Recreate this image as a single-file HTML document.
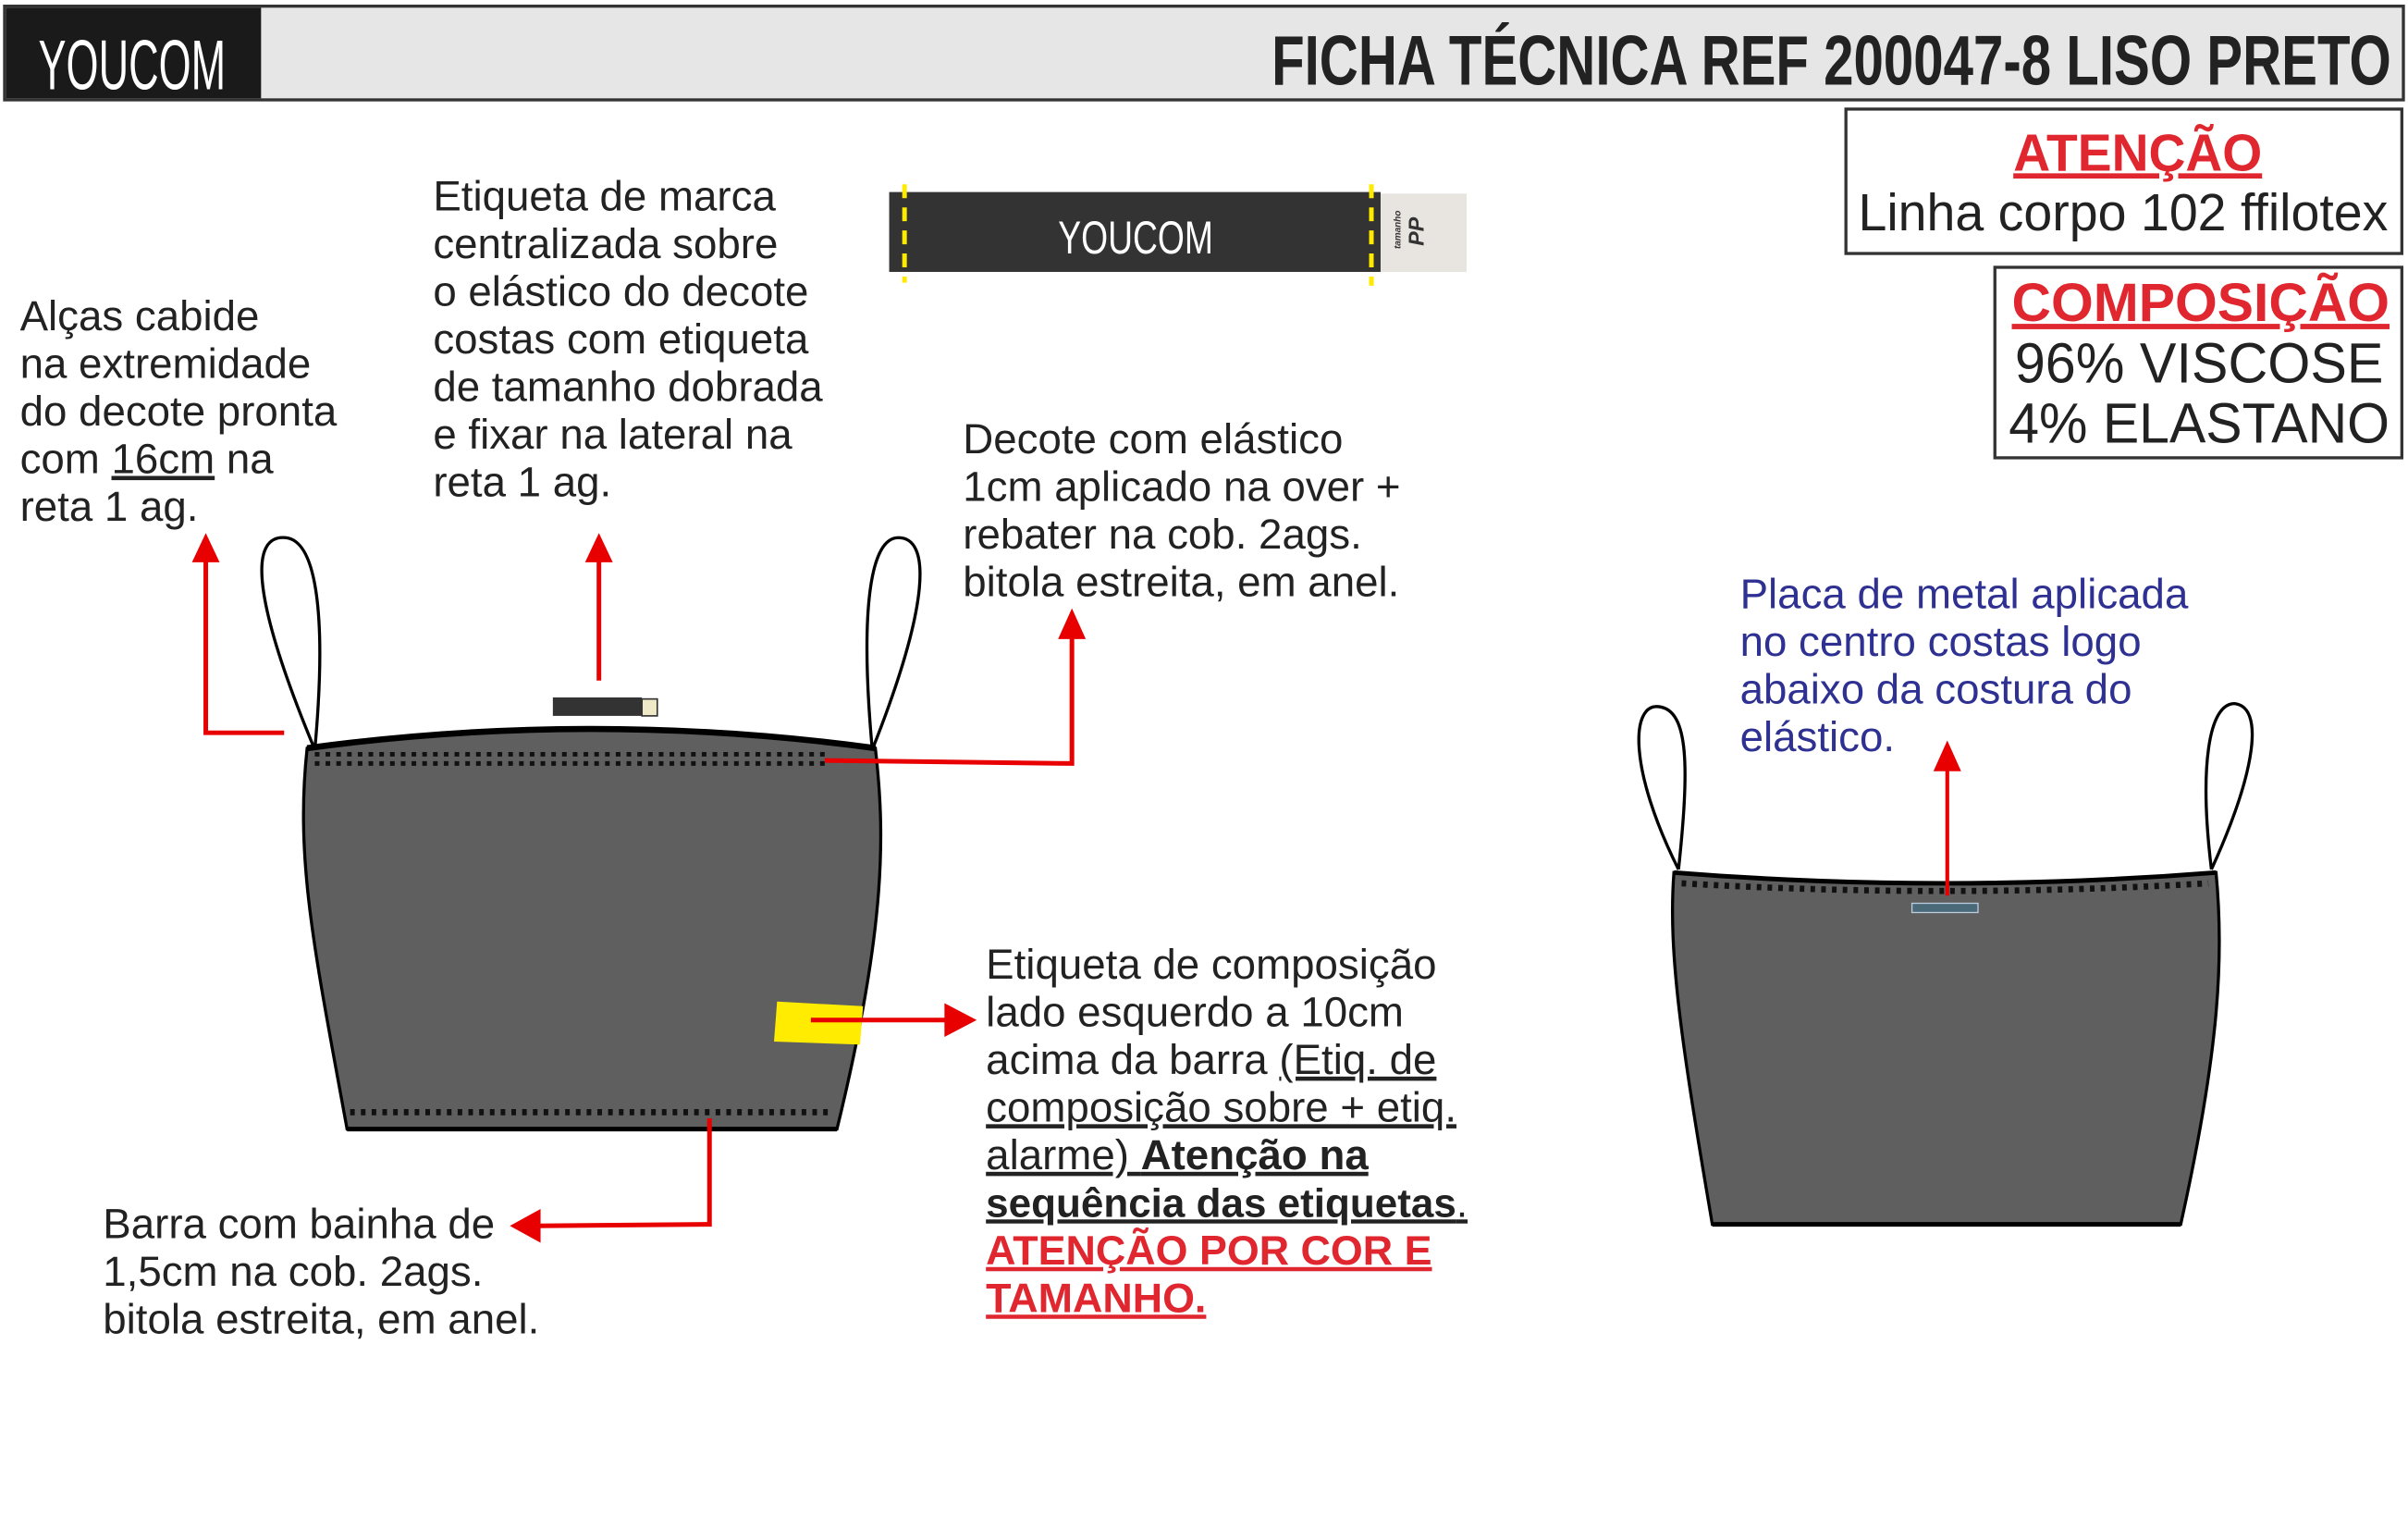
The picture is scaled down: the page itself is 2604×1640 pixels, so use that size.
<!DOCTYPE html>
<html><head><meta charset="utf-8"><style>
html,body{margin:0;padding:0;background:#fff;}
svg{display:block;}
text{font-family:"Liberation Sans",sans-serif;}
</style></head><body>
<svg width="2604" height="1640" viewBox="0 0 1568 987.5" xmlns="http://www.w3.org/2000/svg">
<rect x="0" y="0" width="1568" height="987.5" fill="#fff"/>
<rect x="3" y="4" width="1562" height="61" fill="#e6e6e6" stroke="#333" stroke-width="2"/>
<rect x="4" y="5" width="166" height="59" fill="#1a1a1a"/>
<text x="25" y="58" font-size="46" fill="#fff" textLength="122" lengthAdjust="spacingAndGlyphs">YOUCOM</text>
<text x="828" y="55" font-size="46" font-weight="bold" fill="#222" textLength="729" lengthAdjust="spacingAndGlyphs">FICHA TÉCNICA REF 200047-8 LISO PRETO</text>
<rect x="1202" y="71" width="362" height="94" fill="#fff" stroke="#333" stroke-width="2"/>
<text x="1311" y="111" font-size="34" font-weight="bold" fill="#e0262e" text-decoration="underline" textLength="162" lengthAdjust="spacingAndGlyphs">ATENÇÃO</text>
<text x="1210" y="150" font-size="34" fill="#222" textLength="345" lengthAdjust="spacingAndGlyphs">Linha corpo 102 ffilotex</text>
<rect x="1299" y="174" width="265" height="124" fill="#fff" stroke="#333" stroke-width="2"/>
<text x="1310" y="209" font-size="35" font-weight="bold" fill="#e0262e" text-decoration="underline" textLength="246" lengthAdjust="spacingAndGlyphs">COMPOSIÇÃO</text>
<text x="1312" y="249" font-size="37" fill="#222" textLength="240" lengthAdjust="spacingAndGlyphs">96% VISCOSE</text>
<text x="1308" y="288" font-size="37" fill="#222" textLength="248" lengthAdjust="spacingAndGlyphs">4% ELASTANO</text>
<rect x="579" y="125" width="320" height="52" fill="#333"/>
<rect x="899" y="126" width="56" height="51" fill="#e8e4e0"/>
<line x1="589" y1="120" x2="589" y2="184" stroke="#ffea00" stroke-width="3" stroke-dasharray="9,6"/>
<line x1="893" y1="120" x2="893" y2="186" stroke="#ffea00" stroke-width="3" stroke-dasharray="9,6"/>
<text x="689" y="165" font-size="30" fill="#fff" textLength="101" lengthAdjust="spacingAndGlyphs">YOUCOM</text>
<text transform="translate(912,162) rotate(-90)" font-size="6" font-weight="bold" font-style="italic" fill="#333">tamanho</text>
<text transform="translate(927,160) rotate(-90)" font-size="14" font-weight="bold" font-style="italic" fill="#333">PP</text>
<g font-size="27.5" fill="#222">
<text x="13" y="215">Alças cabide</text>
<text x="13" y="246">na extremidade</text>
<text x="13" y="277">do decote pronta</text>
<text x="13" y="308">com <tspan text-decoration="underline">16cm</tspan> na</text>
<text x="13" y="339">reta 1 ag.</text>
<text x="282" y="137">Etiqueta de marca</text>
<text x="282" y="168">centralizada sobre</text>
<text x="282" y="199">o elástico do decote</text>
<text x="282" y="230">costas com etiqueta</text>
<text x="282" y="261">de tamanho dobrada</text>
<text x="282" y="292">e fixar na lateral na</text>
<text x="282" y="323">reta 1 ag.</text>
<text x="627" y="295">Decote com elástico</text>
<text x="627" y="326">1cm aplicado na over +</text>
<text x="627" y="357">rebater na cob. 2ags.</text>
<text x="627" y="388">bitola estreita, em anel.</text>
<text x="642" y="637">Etiqueta de composição</text>
<text x="642" y="668">lado esquerdo a 10cm</text>
<text x="642" y="699">acima da barra <tspan text-decoration="underline">(Etiq. de</tspan></text>
<text x="642" y="730" text-decoration="underline">composição sobre + etiq.</text>
<text x="642" y="761" text-decoration="underline">alarme) <tspan font-weight="bold">Atenção na </tspan></text>
<text x="642" y="792" text-decoration="underline" font-weight="bold" font-size="26.5">sequência das etiquetas<tspan font-weight="normal">.</tspan></text>
<text x="642" y="823" text-decoration="underline" font-weight="bold" fill="#e0262e" font-size="27">ATENÇÃO POR COR E</text>
<text x="642" y="854" text-decoration="underline" font-weight="bold" fill="#e0262e" font-size="27">TAMANHO.</text>
<text x="67" y="806">Barra com bainha de</text>
<text x="67" y="837">1,5cm na cob. 2ags.</text>
<text x="67" y="868">bitola estreita, em anel.</text>
<g fill="#2e3192">
<text x="1133" y="396">Placa de metal aplicada</text>
<text x="1133" y="427">no centro costas logo</text>
<text x="1133" y="458">abaixo da costura do</text>
<text x="1133" y="489">elástico.</text>
</g>
</g>
<path d="M205,488 C160,380 165,348 186,350 C206,352 213,400 205,488" fill="none" stroke="#000" stroke-width="2"/>
<path d="M568,488 C560,400 566,350 585,350 C606,350 606,392 568,488" fill="none" stroke="#000" stroke-width="2"/>
<path d="M200,487 Q385,462 570,487 C576,540 578,600 545,735 L226,735 C205,620 192,560 200,487 Z" fill="#5f5f5f" stroke="#000" stroke-width="2"/>
<path d="M200,487 Q385,462 570,487" fill="none" stroke="#000" stroke-width="4"/>
<line x1="226" y1="735" x2="545" y2="735" stroke="#000" stroke-width="3"/>
<line x1="205" y1="491" x2="540" y2="491" stroke="#111" stroke-width="3" stroke-dasharray="3,4"/>
<line x1="205" y1="497" x2="540" y2="497" stroke="#111" stroke-width="3" stroke-dasharray="3,4"/>
<line x1="228" y1="724" x2="542" y2="724" stroke="#111" stroke-width="4" stroke-dasharray="3,4"/>
<rect x="360" y="454" width="58" height="12" fill="#333"/>
<rect x="418" y="455" width="10" height="11" fill="#efe9c8" stroke="#333" stroke-width="1"/>
<polygon points="506,652 562,655 560,680 504,678" fill="#ffec00"/>
<path d="M1093,566 C1060,500 1062,458 1080,460 C1100,462 1100,500 1093,566" fill="none" stroke="#000" stroke-width="2"/>
<path d="M1440,566 C1432,500 1438,458 1455,458 C1474,460 1470,500 1440,566" fill="none" stroke="#000" stroke-width="2"/>
<path d="M1090,568 Q1266,582 1443,568 C1448,620 1446,680 1420,797 L1115,797 C1095,680 1086,620 1090,568 Z" fill="#5f5f5f" stroke="#000" stroke-width="2"/>
<path d="M1090,568 Q1266,582 1443,568" fill="none" stroke="#000" stroke-width="3"/>
<line x1="1115" y1="797" x2="1420" y2="797" stroke="#000" stroke-width="3"/>
<path d="M1095,575 Q1266,585 1438,575" fill="none" stroke="#111" stroke-width="4" stroke-dasharray="3,4"/>
<rect x="1245" y="588" width="43" height="6" fill="#4a6a7a" stroke="#bcd" stroke-width="0.8"/>
<g stroke="#e80000" stroke-width="3" fill="none">
<polyline points="185,477 134,477 134,364"/>
<line x1="390" y1="443" x2="390" y2="364"/>
<polyline points="537,495 698,497 698,414"/>
<line x1="528" y1="664" x2="618" y2="664"/>
<polyline points="462,728 462,797 350,798"/>
<line x1="1268" y1="583" x2="1268" y2="500" stroke-width="2.5"/>
</g>
<g fill="#e80000">
<polygon points="134,347 125,366 143,366"/>
<polygon points="390,347 381,366 399,366"/>
<polygon points="698,396 689,416 707,416"/>
<polygon points="636,664 615,653 615,675"/>
<polygon points="332,798 352,787 352,809"/>
<polygon points="1268,482 1259,502 1277,502"/>
</g>
</svg>
</body></html>
